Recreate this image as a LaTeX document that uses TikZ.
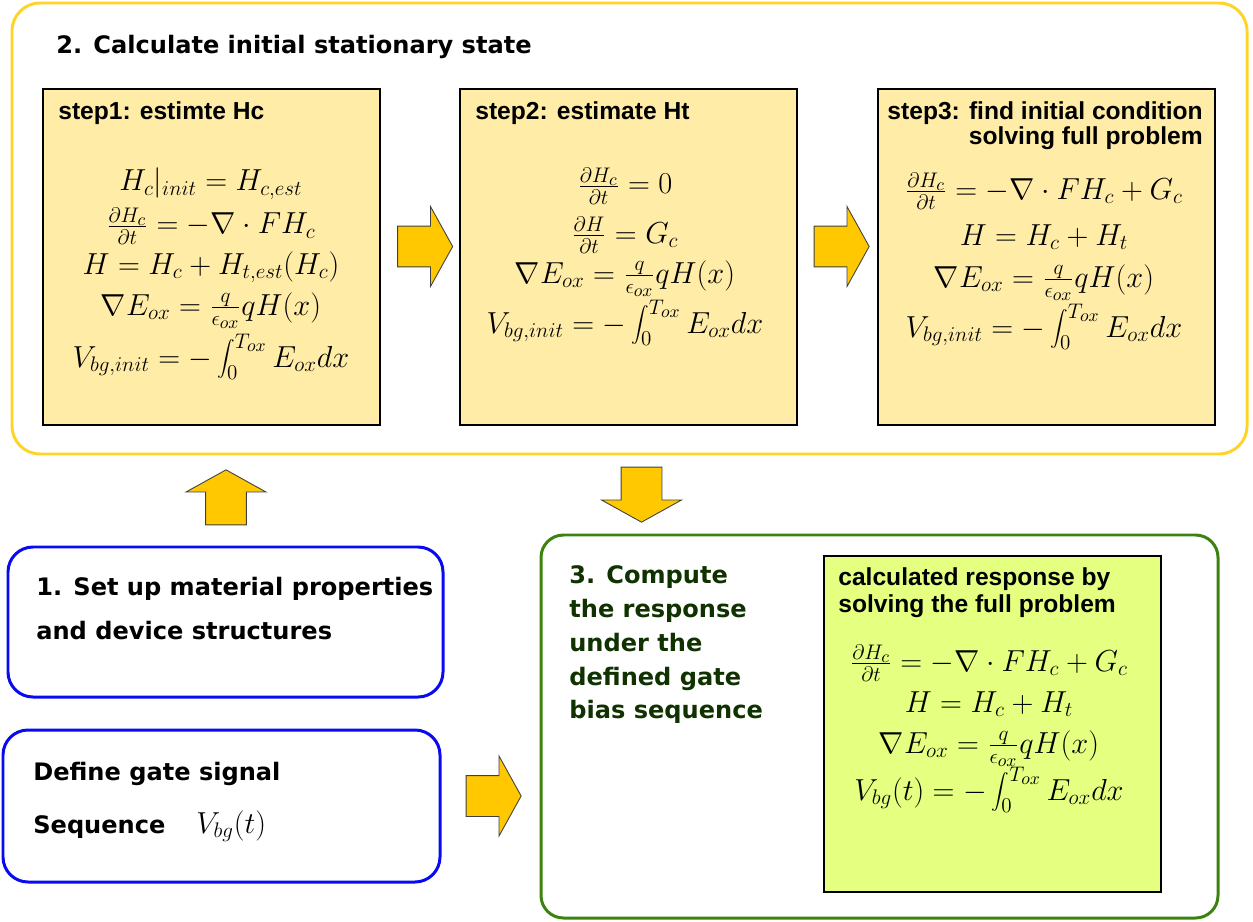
\documentclass[tikz,border=0pt]{standalone}
\usepackage{fontspec}
\usetikzlibrary{shapes.arrows}
\newfontfamily\titolofont{DejaVu Sans}
\newfontfamily\passofont{Liberation Sans}
\definecolor{cornicegialla}{RGB}{255,212,40}
\definecolor{riempigiallo}{RGB}{255,236,166}
\definecolor{frecciagialla}{RGB}{255,200,0}
\definecolor{bordoblu}{RGB}{10,10,240}
\definecolor{bordoverde}{RGB}{60,130,15}
\definecolor{riempiverde}{RGB}{229,255,128}
\definecolor{testoverde}{RGB}{15,50,0}

\begin{document}
\begin{tikzpicture}[x=0.02cm, y=-0.02cm,
  titolo/.style={font=\titolofont\bfseries\fontsize{13.7}{16}\selectfont, anchor=base west, inner sep=0pt},
  passo/.style={font=\passofont\bfseries\fontsize{14}{16}\selectfont, anchor=base west, inner sep=0pt},
  formula/.style={font=\fontsize{17.28}{20}\selectfont, anchor=base, inner sep=0pt},
  riquadro/.style={draw=black, line width=1.2pt, fill=riempigiallo},
  freccia/.style={single arrow, draw=black!75, line width=0.5pt, fill=frecciagialla,
    minimum height=1.1cm, single arrow head extend=0.39cm,
    single arrow tip angle=122, inner xsep=0pt, inner ysep=0.4cm}]
  \useasboundingbox (0,0) rectangle (1253,922);

  % Cornici
  \draw[cornicegialla, line width=1.7pt, rounded corners=0.56cm] (12,3) rectangle (1247,454);
  \draw[bordoblu, line width=1.7pt, rounded corners=0.5cm] (8,547) rectangle (443,697);
  \draw[bordoblu, line width=1.7pt, rounded corners=0.5cm] (3,730) rectangle (440,882);
  \draw[bordoverde, line width=1.7pt, rounded corners=0.45cm] (541,535) rectangle (1218,918);

  % Blocchi
  \draw[riquadro] (43,89) rectangle (380,425);
  \draw[riquadro] (460,89) rectangle (797,425);
  \draw[riquadro] (878,89) rectangle (1215,425);
  \draw[draw=black, line width=1.2pt, fill=riempiverde] (824,556) rectangle (1161,892);

  % Titoli
  \node[titolo] (tit2) at (56,54) {2. Calculate initial stationary state};
  \node[titolo] (tit1a) at (36,595) {1. Set up material properties};
  \node[titolo] (tit1b) at (36,639) {and device structures};
  \node[titolo] (segA) at (33,780) {Define gate signal};
  \node[titolo] (segB) at (33,833) {Sequence};
  \node[formula, anchor=base west] (vbg) at (196,833) {$V_{bg}(t)$};
  \node[titolo, testoverde] (tit3a) at (569,583) {3. Compute};
  \node[titolo, testoverde] (tit3b) at (569,617) {the response};
  \node[titolo, testoverde] (tit3c) at (569,651) {under the};
  \node[titolo, testoverde] (tit3d) at (569,685) {defined gate};
  \node[titolo, testoverde] (tit3e) at (569,718) {bias sequence};

  % Passo 1
  \node[passo] (p1) at (58,120) {step1: estimte Hc};
  \node[formula] (p1a) at (211,191) {$H_c|_{init} = H_{c,est}$};
  \node[formula] (p1b) at (211,234) {$\frac{\partial H_c}{\partial t} = -\nabla\cdot F H_c$};
  \node[formula] (p1c) at (211,274) {$H = H_c + H_{t,est}(H_c)$};
  \node[formula] (p1d) at (211,315) {$\nabla E_{ox} = \frac{q}{\epsilon_{ox}} q H(x)$};
  \node[formula] (p1e) at (211,367) {$V_{bg,init} = -\displaystyle\int_0^{T_{ox}} E_{ox} dx$};

  % Passo 2
  \node[passo] (p2) at (475,120) {step2: estimate Ht};
  \node[formula] (p2a) at (625,194) {$\frac{\partial H_c}{\partial t} = 0$};
  \node[formula] (p2b) at (625,243) {$\frac{\partial H}{\partial t} = G_c$};
  \node[formula] (p2c) at (625,283) {$\nabla E_{ox} = \frac{q}{\epsilon_{ox}} q H(x)$};
  \node[formula] (p2d) at (625,333) {$V_{bg,init} = -\displaystyle\int_0^{T_{ox}} E_{ox} dx$};

  % Passo 3
  \node[passo, anchor=base east] (p3) at (1203,120) {step3: find initial condition};
  \node[passo, anchor=base east] (p3bis) at (1203,145) {solving full problem};
  \node[formula] (p3a) at (1044,199) {$\frac{\partial H_c}{\partial t} = -\nabla\cdot F H_c + G_c$};
  \node[formula] (p3b) at (1044,245) {$H = H_c + H_t$};
  \node[formula] (p3c) at (1044,287) {$\nabla E_{ox} = \frac{q}{\epsilon_{ox}} q H(x)$};
  \node[formula] (p3d) at (1044,337) {$V_{bg,init} = -\displaystyle\int_0^{T_{ox}} E_{ox} dx$};

  % Risposta
  \node[passo] (r1) at (838,585) {calculated response by};
  \node[passo] (r2) at (838,612) {solving the full problem};
  \node[formula] (ra) at (989,671) {$\frac{\partial H_c}{\partial t} = -\nabla\cdot F H_c + G_c$};
  \node[formula] (rb) at (989,712) {$H = H_c + H_t$};
  \node[formula] (rc) at (989,753) {$\nabla E_{ox} = \frac{q}{\epsilon_{ox}} q H(x)$};
  \node[formula] (rd) at (989,800) {$V_{bg}(t) = -\displaystyle\int_0^{T_{ox}} E_{ox} dx$};

  % Frecce
  \node[freccia] (f1) at (419.5,246.5) {};
  \node[freccia] (f2) at (836,246.5) {};
  \node[freccia, rotate=90] (f3) at (226,503) {};
  \node[freccia, rotate=270] (f4) at (641.5,489) {};
  \node[freccia] (f5) at (488,796) {};
\end{tikzpicture}
\end{document}
